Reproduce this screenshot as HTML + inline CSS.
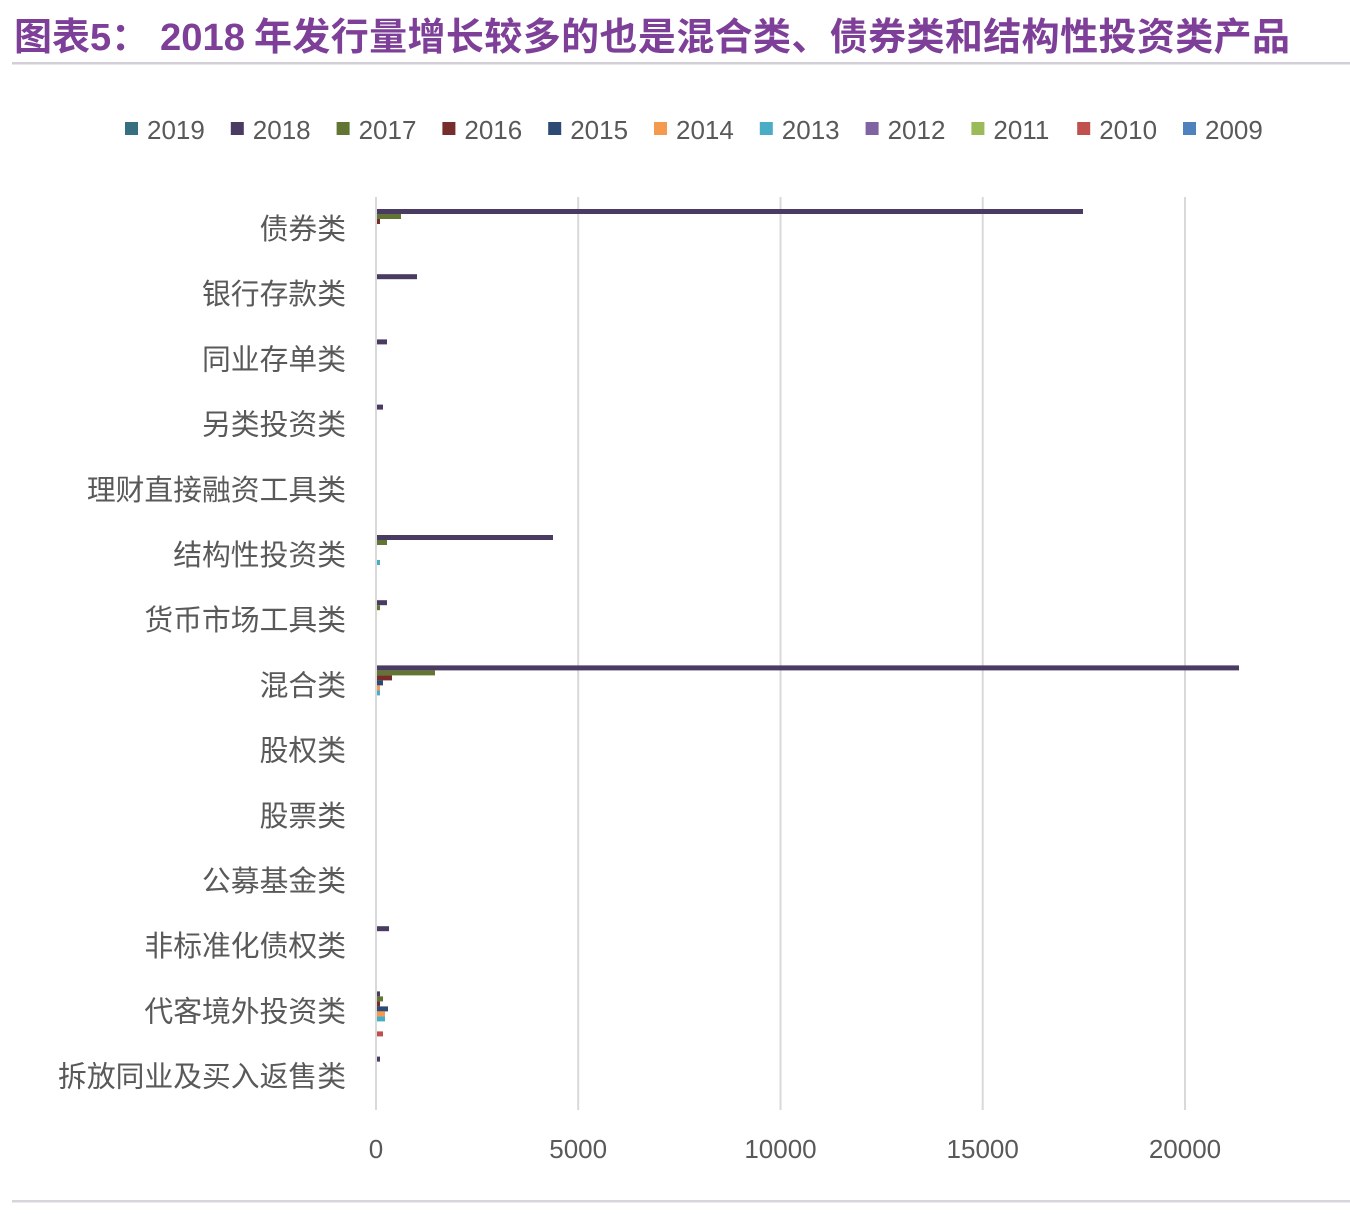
<!DOCTYPE html>
<html><head><meta charset="utf-8">
<style>
html,body{margin:0;padding:0;background:#fff;}
svg{display:block;}
.t{font-family:"Liberation Sans","Noto Sans CJK SC",sans-serif;font-weight:bold;fill:#7e3f98;font-size:38px;}
.lg{font-family:"Liberation Sans",sans-serif;font-size:26px;fill:#595959;}
.cat{font-family:"Liberation Sans","Noto Sans CJK SC",sans-serif;font-size:28.8px;fill:#595959;}
.tk{font-family:"Liberation Sans",sans-serif;font-size:26px;fill:#595959;}
</style></head>
<body>
<svg width="1350" height="1214" viewBox="0 0 1350 1214" xmlns="http://www.w3.org/2000/svg">
<rect width="1350" height="1214" fill="#fff"/>
<!-- title -->
<text class="t" x="14" y="50">图表5：</text>
<text class="t" x="160" y="50" textLength="85" lengthAdjust="spacingAndGlyphs">2018</text>
<text class="t" x="254" y="50" textLength="1036" lengthAdjust="spacing">年发行量增长较多的也是混合类、债券类和结构性投资类产品</text>
<rect x="12" y="62" width="1338" height="2.5" fill="#d3cfd6"/>

<!-- legend -->
<g>
<rect x="125" y="122" width="13" height="13" fill="#356f80"/><text class="lg" x="147" y="139">2019</text>
<rect x="230.8" y="122" width="13" height="13" fill="#4a3b62"/><text class="lg" x="252.8" y="139">2018</text>
<rect x="336.6" y="122" width="13" height="13" fill="#627533"/><text class="lg" x="358.6" y="139">2017</text>
<rect x="442.4" y="122" width="13" height="13" fill="#762d2b"/><text class="lg" x="464.4" y="139">2016</text>
<rect x="548.2" y="122" width="13" height="13" fill="#2c4a74"/><text class="lg" x="570.2" y="139">2015</text>
<rect x="654" y="122" width="13" height="13" fill="#f39a4f"/><text class="lg" x="676" y="139">2014</text>
<rect x="759.8" y="122" width="13" height="13" fill="#4bacc6"/><text class="lg" x="781.8" y="139">2013</text>
<rect x="865.6" y="122" width="13" height="13" fill="#8064a2"/><text class="lg" x="887.6" y="139">2012</text>
<rect x="971.4" y="122" width="13" height="13" fill="#9bbb59"/><text class="lg" x="993.4" y="139">2011</text>
<rect x="1077.2" y="122" width="13" height="13" fill="#c0504d"/><text class="lg" x="1099.2" y="139">2010</text>
<rect x="1183" y="122" width="13" height="13" fill="#4f81bd"/><text class="lg" x="1205" y="139">2009</text>
</g>

<!-- gridlines -->
<g fill="#d9d9d9">
<rect x="375" y="197" width="2" height="913"/>
<rect x="577.2" y="197" width="2" height="913"/>
<rect x="779.5" y="197" width="2" height="913"/>
<rect x="981.7" y="197" width="2" height="913"/>
<rect x="1184" y="197" width="2" height="913"/>
</g>

<!-- category labels -->
<g class="cat" text-anchor="end">
<text x="346" y="239">债券类</text>
<text x="346" y="304.2">银行存款类</text>
<text x="346" y="369.4">同业存单类</text>
<text x="346" y="434.6">另类投资类</text>
<text x="346" y="499.8">理财直接融资工具类</text>
<text x="346" y="565">结构性投资类</text>
<text x="346" y="630.2">货币市场工具类</text>
<text x="346" y="695.4">混合类</text>
<text x="346" y="760.6">股权类</text>
<text x="346" y="825.8">股票类</text>
<text x="346" y="891">公募基金类</text>
<text x="346" y="956.2">非标准化债权类</text>
<text x="346" y="1021.4">代客境外投资类</text>
<text x="346" y="1086.6">拆放同业及买入返售类</text>
</g>

<!-- bars -->
<g>
<rect x="377" y="209" width="706" height="5" fill="#4a3b62"/>
<rect x="377" y="214" width="24" height="5" fill="#627533"/>
<rect x="377" y="219" width="3" height="5" fill="#762d2b"/>
<rect x="377" y="274.2" width="40" height="5" fill="#4a3b62"/>
<rect x="377" y="339.4" width="10" height="5" fill="#4a3b62"/>
<rect x="377" y="404.6" width="6" height="5" fill="#4a3b62"/>
<rect x="377" y="535" width="176" height="5" fill="#4a3b62"/>
<rect x="377" y="540" width="10" height="5" fill="#627533"/>
<rect x="377" y="560" width="3" height="5" fill="#4bacc6"/>
<rect x="377" y="600.2" width="10" height="5" fill="#4a3b62"/>
<rect x="377" y="605.2" width="3" height="5" fill="#627533"/>
<rect x="377" y="665.4" width="862" height="5" fill="#4a3b62"/>
<rect x="377" y="670.4" width="58" height="5" fill="#627533"/>
<rect x="377" y="675.4" width="15" height="5" fill="#762d2b"/>
<rect x="377" y="680.4" width="6" height="5" fill="#2c4a74"/>
<rect x="377" y="685.4" width="3" height="5" fill="#f39a4f"/>
<rect x="377" y="690.4" width="3" height="5" fill="#4bacc6"/>
<rect x="377" y="926.2" width="12" height="5" fill="#4a3b62"/>
<rect x="377" y="991.4" width="3" height="5" fill="#4a3b62"/>
<rect x="377" y="996.4" width="6" height="5" fill="#627533"/>
<rect x="377" y="1001.4" width="3" height="5" fill="#762d2b"/>
<rect x="377" y="1006.4" width="11" height="5" fill="#2c4a74"/>
<rect x="377" y="1011.4" width="8" height="5" fill="#f39a4f"/>
<rect x="377" y="1016.4" width="8" height="5" fill="#4bacc6"/>
<rect x="377" y="1031.4" width="6" height="5" fill="#c0504d"/>
<rect x="377" y="1056.6" width="3" height="5" fill="#4a3b62"/>
</g>

<!-- tick labels -->
<g class="tk" text-anchor="middle">
<text x="376" y="1158">0</text>
<text x="578.2" y="1158">5000</text>
<text x="780.5" y="1158">10000</text>
<text x="982.7" y="1158">15000</text>
<text x="1185" y="1158">20000</text>
</g>

<rect x="12" y="1200" width="1338" height="2.5" fill="#d8d4dc"/>
</svg>
</body></html>
